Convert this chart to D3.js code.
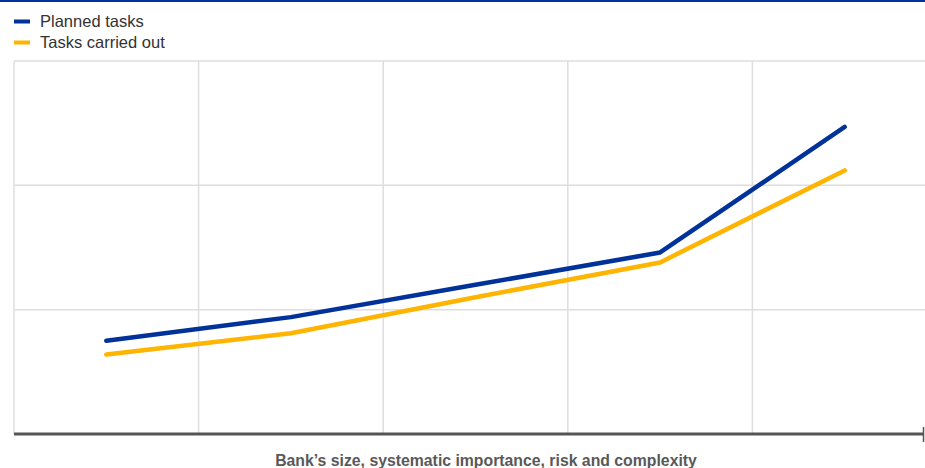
<!DOCTYPE html>
<html>
<head>
<meta charset="utf-8">
<script src="https://cdn.jsdelivr.net/npm/d3@7"></script>
<style>
  html, body { margin: 0; padding: 0; background: #fff; }
  svg { display: block; }
</style>
</head>
<body>
<svg id="chart" width="925" height="468"></svg>
<script>
// Data (unitless index)
const categories = ["Group 1", "Group 2", "Group 3", "Group 4", "Group 5"];
const plannedTasks = [0.75, 0.94, 1.20, 1.46, 2.47];
const tasksCarriedOut = [0.64, 0.81, 1.10, 1.38, 2.12];
const yTicks = [0, 1, 2, 3];
const seriesNames = ["Planned tasks", "Tasks carried out"];
const seriesColors = ["#003299", "#ffb400"];
const xTitle = "Bank\u2019s size, systematic importance, risk and complexity";

(function () {
const W = 925, H = 468;
const mLeft = 14, mRight = 937, mTop = 61, mBottom = 434;

const svg = d3.select("#chart");

const x = d3.scaleBand().domain(categories).range([mLeft, mRight]).paddingInner(0).paddingOuter(0);
const y = d3.scaleLinear().domain([0, 3]).range([mBottom, mTop]);

// top brand line
svg.append("rect").attr("x", 0).attr("y", 0).attr("width", W).attr("height", 2).attr("fill", "#003299");

// horizontal gridlines
svg.append("g").selectAll("line").data(yTicks.filter(d => d > 0)).join("line")
  .attr("x1", mLeft).attr("x2", W)
  .attr("y1", d => y(d)).attr("y2", d => y(d))
  .attr("stroke", "#dedede").attr("stroke-width", 1.5);

// vertical gridlines at band boundaries
svg.append("g").selectAll("line").data(categories).join("line")
  .attr("x1", d => x(d)).attr("x2", d => x(d))
  .attr("y1", mTop).attr("y2", mBottom)
  .attr("stroke", "#dedede").attr("stroke-width", 1.5);

// x axis line
svg.append("line")
  .attr("x1", mLeft).attr("x2", W - 1)
  .attr("y1", y(0)).attr("y2", y(0))
  .attr("stroke", "#555555").attr("stroke-width", 3);
svg.append("line")
  .attr("x1", W - 1.5).attr("x2", W - 1.5)
  .attr("y1", y(0) - 7).attr("y2", y(0) + 8)
  .attr("stroke", "#555555").attr("stroke-width", 1.5);

// lines
const line = d3.line()
  .x((d, i) => x(categories[i]) + x.bandwidth() / 2)
  .y(d => y(d));

[plannedTasks, tasksCarriedOut].forEach((s, k) => {
  svg.append("path")
    .attr("d", line(s))
    .attr("fill", "none")
    .attr("stroke", seriesColors[k])
    .attr("stroke-width", 4.5)
    .attr("stroke-linecap", "round")
    .attr("stroke-linejoin", "round");
});

// legend
const leg = svg.append("g");
seriesNames.forEach((name, i) => {
  const cy = 21.5 + i * 21;
  leg.append("rect").attr("x", 14).attr("y", cy - 2).attr("width", 16).attr("height", 4).attr("fill", seriesColors[i]);
  leg.append("text").attr("x", 40).attr("y", cy + 5.5)
    .attr("font-family", "Liberation Sans, Arial, sans-serif")
    .attr("font-size", 16.5).attr("fill", "#333333").text(name);
});

// x axis title
svg.append("text")
  .attr("x", 486).attr("y", 465.5)
  .attr("text-anchor", "middle")
  .attr("font-family", "Liberation Sans, Arial, sans-serif")
  .attr("font-size", 15.8).attr("font-weight", "bold")
  .attr("fill", "#595959")
  .text(xTitle);
})();
</script>
</body>
</html>
